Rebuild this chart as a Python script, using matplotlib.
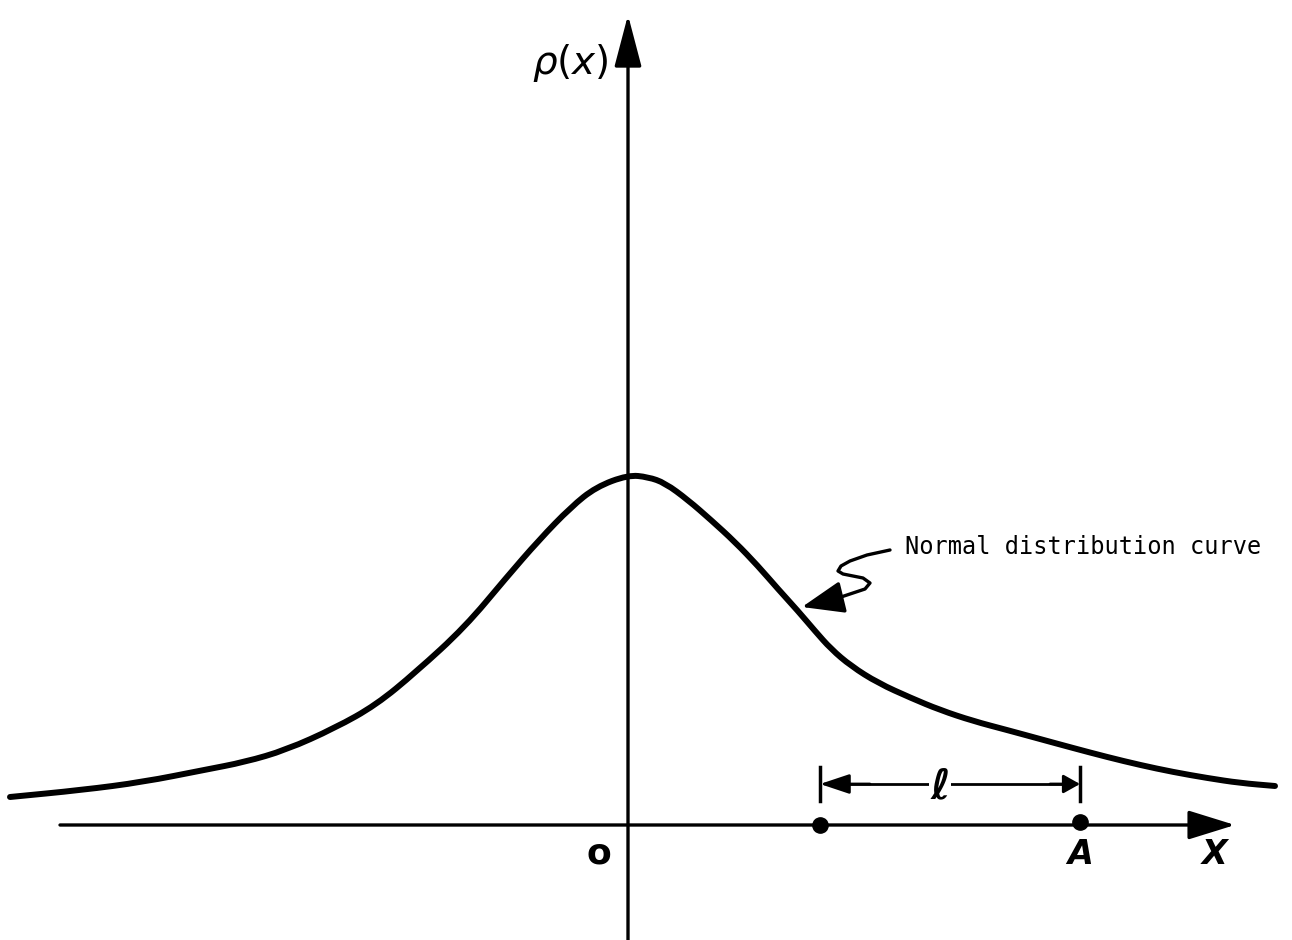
import numpy as np
import matplotlib
matplotlib.use("Agg")
import matplotlib.pyplot as plt
from matplotlib.path import Path
from matplotlib.patches import PathPatch

# curve (x: O = 0, 1 unit = 100 px; y: x-axis = 0)
curve_x = [-6.18, -5.46, -4.85, -4.24, -3.83, -3.42, -2.93, -2.52, -2.12,
           -1.63, -1.22, -0.89, -0.57, -0.32, 0.00, 0.20, 0.37, 0.60, 0.83,
           1.07, 1.30, 1.50, 1.70, 1.87, 2.03, 2.23, 2.50, 2.83, 3.12, 3.45,
           3.79, 4.12, 4.45, 4.79, 5.12, 5.45, 5.79, 6.12, 6.47]
curve_y = [0.28, 0.35, 0.43, 0.55, 0.63, 0.75, 0.97, 1.20, 1.53,
           1.98, 2.47, 2.85, 3.18, 3.38, 3.50, 3.48, 3.42, 3.25, 3.05,
           2.83, 2.59, 2.36, 2.14, 1.94, 1.76, 1.59, 1.42, 1.27, 1.15, 1.04,
           0.95, 0.86, 0.77, 0.68, 0.60, 0.53, 0.47, 0.42, 0.39]

# marked points on the x axis
point_x = [1.92, 4.52]
point_y = [0.0, 0.03]
point_labels = ["", "A"]

# squiggly leader from the label to the curve
leader_x = [2.62, 2.39, 2.22, 2.13, 2.10, 2.15, 2.35, 2.42, 2.37, 2.19, 2.07]
leader_y = [2.75, 2.70, 2.64, 2.59, 2.54, 2.51, 2.47, 2.42, 2.36, 2.30, 2.26]
leader_tip = (1.74, 2.18)
curve_label = "Normal distribution curve"


def smooth_path(xs, ys):
    # quadratic bezier through the midpoints, read points as control points
    pts = list(zip(xs, ys))
    verts = [pts[0], ((pts[0][0] + pts[1][0]) / 2, (pts[0][1] + pts[1][1]) / 2)]
    codes = [Path.MOVETO, Path.LINETO]
    for i in range(1, len(pts) - 1):
        mid = ((pts[i][0] + pts[i + 1][0]) / 2, (pts[i][1] + pts[i + 1][1]) / 2)
        verts += [pts[i], mid]
        codes += [Path.CURVE3, Path.CURVE3]
    verts.append(pts[-1])
    codes.append(Path.LINETO)
    return Path(verts, codes)


def arrow(ax, tip, tail, hl, hw, lw):
    ax.annotate("", xy=tip, xytext=tail,
                arrowprops=dict(arrowstyle="-|>,head_length=%g,head_width=%g" % (hl, hw),
                                lw=lw, color="k", shrinkA=0, shrinkB=0,
                                mutation_scale=20))


def main():
    fig = plt.figure(figsize=(12.92, 9.40), dpi=100)
    ax = fig.add_axes([0, 0, 1, 1])
    ax.set_xlim(-6.28, 6.64)
    ax.set_ylim(-1.15, 8.25)
    ax.axis("off")

    # axes with arrows
    arrow(ax, (6.07, 0), (-5.68, 0), 1.45, 0.45, 2.4)
    arrow(ax, (0, 8.10), (0, -1.15), 1.6, 0.42, 2.4)

    # the curve
    ax.add_patch(PathPatch(smooth_path(curve_x, curve_y), fill=False,
                           lw=4.3, ec="k", capstyle="round", joinstyle="round"))

    # points on the axis
    ax.plot(point_x, point_y, "o", color="k", ms=11)
    for x, y, lab in zip(point_x, point_y, point_labels):
        if lab:
            ax.text(x, y - 0.33, lab, ha="center", va="center", fontsize=24,
                    fontweight="bold", fontstyle="italic")

    ax.text(-0.29, -0.28, "o", ha="center", va="center", fontsize=26,
            fontweight="bold")
    ax.text(5.87, -0.30, "X", ha="center", va="center", fontsize=24,
            fontweight="bold", fontstyle="italic")
    ax.text(-0.58, 7.62, r"$\rho(x)$", ha="center", va="center", fontsize=28)

    # dimension marker between the two points
    dim_y = 0.41
    x0, x1 = point_x
    for x in (x0, x1):
        ax.plot([x, x], [dim_y - 0.17, dim_y + 0.17], color="k", lw=2.5)
    ax.plot([x0 + 0.1, x1 - 0.1], [dim_y, dim_y], color="k", lw=2.0)
    arrow(ax, (x0, dim_y), (x0 + 0.5, dim_y), 0.9, 0.3, 2.0)
    arrow(ax, (x1, dim_y), (x1 - 0.3, dim_y), 0.5, 0.28, 2.0)
    ax.text(3.12, dim_y - 0.02, "\u2113", ha="center", va="center",
            fontsize=30, fontweight="bold", fontstyle="italic",
            bbox=dict(fc="white", ec="none", pad=0.5))

    # label and leader
    ax.text(2.77, 2.78, curve_label, ha="left", va="center", fontsize=17,
            family="DejaVu Sans Mono")
    ax.plot(leader_x, leader_y, color="k", lw=2.4, solid_capstyle="round",
            solid_joinstyle="round")
    arrow(ax, leader_tip, (leader_x[-1], leader_y[-1]), 1.3, 0.5, 2.4)

    fig.savefig("out.png", dpi=100, facecolor="white")


if __name__ == "__main__":
    main()
